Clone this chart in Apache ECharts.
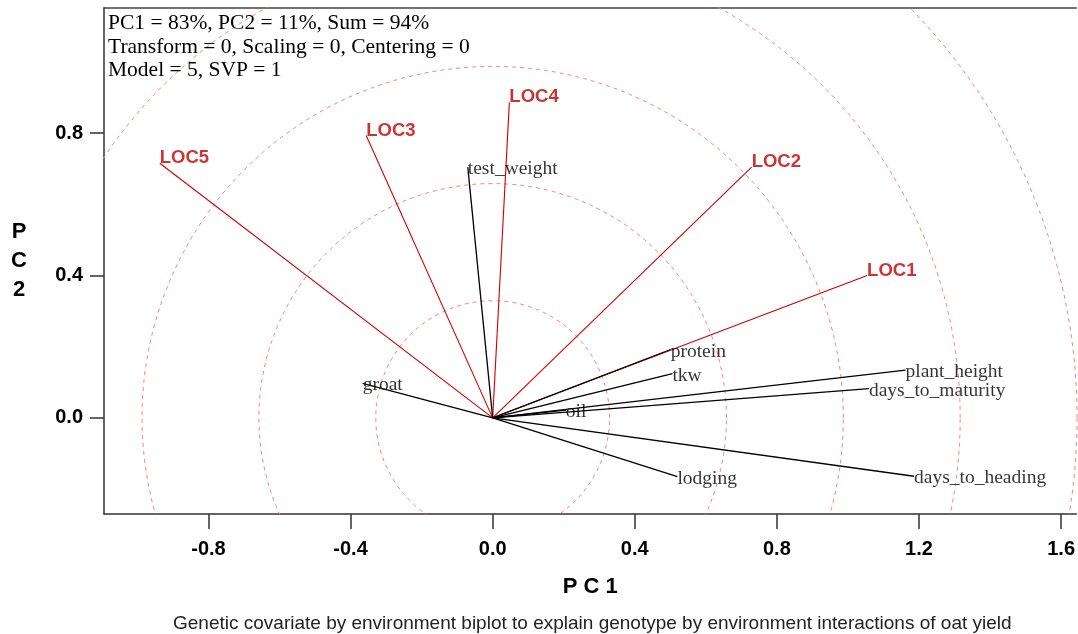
<!DOCTYPE html>
<html>
<head>
<meta charset="utf-8">
<title>GGE biplot – oat yield</title>
<script src="https://cdn.jsdelivr.net/npm/echarts@6/dist/echarts.min.js"></script>
<style>
  html, body { margin: 0; padding: 0; background: #fff; }
  #chart { width: 1078px; height: 634px; }
</style>
</head>
<body>
<div id="chart"></div>
<script>
// Environment vectors (PC1, PC2)
const envNames = ['LOC1', 'LOC2', 'LOC3', 'LOC4', 'LOC5'];
const envPC1 = [1.054, 0.729, -0.356, 0.047, -0.937];
const envPC2 = [0.400, 0.704, 0.793, 0.886, 0.715];

// Genotypic covariate (trait) vectors (PC1, PC2)
const traitNames = ['plant_height', 'days_to_maturity', 'days_to_heading', 'protein', 'tkw',
                    'oil', 'lodging', 'groat', 'test_weight'];
const traitPC1 = [1.162, 1.059, 1.186, 0.501, 0.506, 0.206, 0.520, -0.366, -0.070];
const traitPC2 = [0.134, 0.082, -0.164, 0.192, 0.124, 0.022, -0.165, 0.097, 0.704];

// Concentric reference circles around the origin
const circleRadii = [0.329, 0.658, 0.987, 1.316, 1.645];

// Axis ticks
const xTicks = [-0.8, -0.4, 0.0, 0.4, 0.8, 1.2, 1.6];
const yTicks = [0.0, 0.4, 0.8];

const infoLines = [
  'PC1 = 83%, PC2 = 11%, Sum = 94%',
  'Transform = 0, Scaling = 0, Centering = 0',
  'Model = 5, SVP = 1'
];
const caption = 'Genetic covariate by environment biplot to explain genotype by environment interactions of oat yield';

const SANS = "'Liberation Sans', Arial, sans-serif";
const SERIF = "'Liberation Serif', 'Times New Roman', serif";

function vectorLines(xs, ys) {
  return xs.map((x, i) => ({ coords: [[0, 0], [x, ys[i]]] }));
}
function endPoints(names, xs, ys) {
  return names.map((n, i) => ({ name: n, value: [xs[i], ys[i]] }));
}
function circlePoints(r) {
  const pts = [];
  for (let a = 0; a <= 360; a += 1) {
    const t = a * Math.PI / 180;
    pts.push([r * Math.cos(t), r * Math.sin(t)]);
  }
  return pts;
}

const circleSeries = circleRadii.map(r => ({
  type: 'line',
  data: circlePoints(r),
  showSymbol: false,
  symbol: 'none',
  silent: true,
  clip: true,
  z: 1,
  lineStyle: { color: '#ff7f7f', width: 1, type: [4, 4] }
}));

const option = {
  animation: false,
  backgroundColor: '#fff',
  title: [
    {
      text: infoLines.join('\n'),
      left: 108, top: 12, padding: 0,
      textStyle: { fontFamily: SERIF, fontSize: 21.5, fontWeight: 'normal', color: '#000', lineHeight: 23.5 }
    },
    {
      text: caption,
      left: 173, top: 614, padding: 0,
      textStyle: { fontFamily: SANS, fontSize: 19, fontWeight: 'normal', color: '#222' }
    }
  ],
  grid: { left: 104, top: 8, right: 0, bottom: 120, containLabel: false },
  xAxis: [
    {
      type: 'value', min: -1.094, max: 1.643, position: 'bottom',
      name: 'P C 1', nameLocation: 'middle', nameGap: 73,
      nameTextStyle: { fontFamily: SANS, fontSize: 22, fontWeight: 'bold', color: '#000',
                       align: 'center', verticalAlign: 'middle' },
      axisLine: { show: true, onZero: false, lineStyle: { color: '#333', width: 1.5 } },
      axisTick: { show: true, inside: false, length: 15, customValues: xTicks,
                  lineStyle: { color: '#333', width: 1.5 } },
      axisLabel: { customValues: xTicks, margin: 25, fontFamily: SANS, fontSize: 20, fontWeight: 'bold',
                   color: '#000', formatter: v => v.toFixed(1) },
      splitLine: { show: false }
    },
    {
      type: 'value', min: -1.094, max: 1.643, position: 'top',
      axisLine: { show: true, onZero: false, lineStyle: { color: '#444', width: 1.5 } },
      axisTick: { show: false }, axisLabel: { show: false }, splitLine: { show: false }
    }
  ],
  yAxis: {
    type: 'value', min: -0.270, max: 1.151,
    name: 'P\nC\n2', nameLocation: 'middle', nameGap: 85, nameRotate: 0,
    nameTextStyle: { fontFamily: SANS, fontSize: 22, fontWeight: 'bold', color: '#000',
                     align: 'center', verticalAlign: 'middle', lineHeight: 29 },
    axisLine: { show: true, onZero: false, lineStyle: { color: '#333', width: 1.5 } },
    axisTick: { show: true, inside: false, length: 14, customValues: yTicks,
                lineStyle: { color: '#333', width: 1.5 } },
    axisLabel: { customValues: yTicks, margin: 21, fontFamily: SANS, fontSize: 20, fontWeight: 'bold',
                 color: '#000', formatter: v => v.toFixed(1) },
    splitLine: { show: false }
  },
  series: [
    ...circleSeries,
    {
      name: 'environments',
      type: 'lines',
      coordinateSystem: 'cartesian2d',
      data: vectorLines(envPC1, envPC2),
      silent: true,
      z: 3,
      lineStyle: { color: '#d00000', width: 1.1, opacity: 1 }
    },
    {
      name: 'traits',
      type: 'lines',
      coordinateSystem: 'cartesian2d',
      data: vectorLines(traitPC1, traitPC2),
      silent: true,
      z: 4,
      lineStyle: { color: '#000', width: 1.3, opacity: 1 }
    },
    {
      name: 'environment labels',
      type: 'scatter',
      data: endPoints(envNames, envPC1, envPC2),
      symbolSize: 0,
      silent: true,
      z: 5,
      label: {
        show: true, position: 'right', distance: 0, offset: [0, -5],
        formatter: p => p.name,
        fontFamily: SANS, fontSize: 18.5, fontWeight: 'bold', color: '#c00000'
      }
    },
    {
      name: 'trait labels',
      type: 'scatter',
      data: endPoints(traitNames, traitPC1, traitPC2),
      symbolSize: 0,
      silent: true,
      z: 5,
      label: {
        show: true, position: 'right', distance: 0, offset: [0, 2],
        formatter: p => p.name,
        fontFamily: SERIF, fontSize: 19.5, fontWeight: 'normal', color: '#000'
      }
    }
  ]
};

const chart = echarts.init(document.getElementById('chart'), null, { renderer: 'canvas' });
chart.setOption(option);
</script>
</body>
</html>
